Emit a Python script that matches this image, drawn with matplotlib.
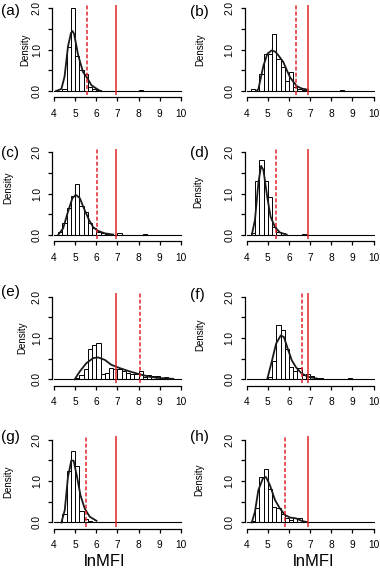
import matplotlib
matplotlib.use("Agg")
import matplotlib.pyplot as plt
import numpy as np

plt.rcParams['font.family'] = ['Liberation Sans', 'DejaVu Sans']

# ---- data -------------------------------------------------------------
panel_labels = ["(a)", "(b)", "(c)", "(d)", "(e)", "(f)", "(g)", "(h)"]
bin_start = 4.0
bin_width = 0.2

hist_a = [0, 0, 0.05, 1.06, 2.0, 0.85, 0.5, 0.4, 0.1, 0.05, 0.03, 0, 0, 0, 0,
          0, 0, 0, 0, 0, 0.02, 0, 0, 0, 0, 0, 0, 0, 0, 0]
hist_b = [0, 0.05, 0, 0.4, 0.9, 0.9, 1.38, 0.78, 0.57, 0.25, 0.47, 0.1, 0.05, 0.02, 0,
          0, 0, 0, 0, 0, 0, 0, 0.03, 0, 0, 0, 0, 0, 0, 0]
hist_c = [0, 0.07, 0.3, 0.65, 0.93, 1.23, 0.69, 0.56, 0.29, 0.17, 0.08, 0.04, 0.02, 0, 0,
          0.04, 0, 0, 0, 0, 0, 0.02, 0, 0, 0, 0, 0, 0, 0, 0]
hist_d = [0, 0.05, 1.3, 1.8, 1.3, 0.92, 0.2, 0.08, 0.05, 0, 0, 0, 0, 0.02, 0,
          0, 0, 0, 0, 0, 0, 0, 0, 0, 0, 0, 0, 0, 0, 0]
hist_e = [0, 0, 0, 0, 0, 0.02, 0.1, 0.25, 0.72, 0.82, 0.87, 0.12, 0.15, 0.28, 0.26,
          0.24, 0.2, 0.16, 0.12, 0.12, 0.2, 0.05, 0.11, 0.07, 0.07, 0, 0.05, 0.02, 0, 0]
hist_f = [0, 0, 0, 0, 0, 0.05, 0.45, 1.31, 1.19, 0.73, 0.3, 0.2, 0.28, 0.1, 0.12,
          0.07, 0.02, 0.02, 0, 0, 0, 0, 0, 0, 0.02, 0, 0, 0, 0, 0]
hist_g = [0, 0, 0.2, 1.25, 1.72, 1.37, 0.27, 0.08, 0.03, 0, 0, 0, 0, 0, 0.02,
          0, 0, 0, 0, 0, 0, 0, 0, 0, 0.02, 0, 0, 0, 0, 0]
hist_h = [0, 0.03, 0.35, 1.1, 1.3, 0.8, 0.38, 0.36, 0.2, 0.1, 0.05, 0.12, 0.11, 0.03, 0,
          0, 0, 0, 0, 0, 0, 0, 0, 0, 0, 0, 0, 0, 0, 0]

dens_x_a = [4.1, 4.35, 4.5, 4.66, 4.8, 4.87, 4.95, 5.14, 5.37, 5.56, 5.77, 6.0, 6.16]
dens_y_a = [0.0, 0.05, 0.35, 1.07, 1.4, 1.45, 1.38, 0.87, 0.46, 0.32, 0.14, 0.06, 0.01]
dens_x_b = [4.45, 4.55, 4.79, 4.98, 5.18, 5.35, 5.5, 5.73, 5.9, 6.05, 6.36, 6.6, 6.9]
dens_y_b = [0.0, 0.04, 0.61, 0.9, 0.98, 0.95, 0.86, 0.7, 0.5, 0.33, 0.12, 0.06, 0.03]
dens_x_c = [4.19, 4.43, 4.66, 4.87, 5.03, 5.22, 5.45, 5.66, 5.85, 6.08, 6.4, 6.8]
dens_y_c = [0.0, 0.16, 0.56, 0.89, 0.97, 0.89, 0.6, 0.36, 0.19, 0.1, 0.04, 0.01]
dens_x_d = [4.24, 4.39, 4.55, 4.68, 4.79, 4.98, 5.13, 5.34, 5.57, 5.89]
dens_y_d = [0.0, 0.36, 1.25, 1.67, 1.57, 0.89, 0.44, 0.19, 0.06, 0.01]
dens_x_e = [4.98, 5.22, 5.53, 5.85, 6.08, 6.4, 6.71, 7.11, 7.58, 8.06, 8.53, 9.0, 9.64]
dens_y_e = [0.0, 0.19, 0.39, 0.51, 0.53, 0.47, 0.35, 0.27, 0.19, 0.12, 0.06, 0.03, 0.01]
dens_x_f = [4.98, 5.18, 5.39, 5.61, 5.76, 5.94, 6.13, 6.33, 6.6, 6.91, 7.31]
dens_y_f = [0.02, 0.42, 0.86, 1.06, 1.02, 0.74, 0.46, 0.29, 0.14, 0.06, 0.02]
dens_x_g = [4.35, 4.51, 4.66, 4.82, 4.93, 5.09, 5.25, 5.45, 5.69, 6.01]
dens_y_g = [0.0, 0.3, 1.1, 1.5, 1.49, 1.1, 0.66, 0.34, 0.14, 0.04]
dens_x_h = [4.24, 4.39, 4.55, 4.76, 4.91, 5.1, 5.34, 5.57, 5.81, 6.05, 6.33, 6.6, 6.83]
dens_y_h = [0.0, 0.26, 0.78, 1.06, 1.1, 0.9, 0.54, 0.34, 0.18, 0.12, 0.1, 0.04, 0.01]

dashed_cut = [5.55, 6.32, 6.03, 5.4, 8.05, 6.63, 5.5, 5.83]
solid_cut = [6.91, 6.91, 6.91, 6.91, 6.91, 6.91, 6.91, 6.91]

x_ticks = [4, 5, 6, 7, 8, 9, 10]
y_ticks = [0.0, 0.5, 1.0, 1.5, 2.0]
y_ticklabels = ["0.0", "", "1.0", "", "2.0"]
x_label = "lnMFI"
y_label = "Density"

hists = [hist_a, hist_b, hist_c, hist_d, hist_e, hist_f, hist_g, hist_h]
dens_x = [dens_x_a, dens_x_b, dens_x_c, dens_x_d, dens_x_e, dens_x_f, dens_x_g, dens_x_h]
dens_y = [dens_y_a, dens_y_b, dens_y_c, dens_y_d, dens_y_e, dens_y_f, dens_y_g, dens_y_h]

# ---- layout (pixels) --------------------------------------------------
W, H = 380, 570
fig = plt.figure(figsize=(W / 100, H / 100), dpi=100)

col_x4 = [54.0, 246.7]          # pixel x of value 4
row_y0 = [91.0, 235.0, 379.3, 522.5]  # pixel y of density 0
sx, sy = 21.15, 41.4
xlim = (3.85, 10.15)
ylim = (-0.15, 2.12)

ylabel_pos = [(25, 50), (200, 50), (8, 188), (198, 192), (22, 338), (200, 335), (8, 482), (199.5, 480)]
plabel_pos = [(1, 11), (190, 12), (1, 153), (190, 153), (1, 292), (190, 295), (1, 437), (190, 437)]

red = "#e0242a"

for i in range(8):
    r, c = divmod(i, 2)
    left = col_x4[c] + (xlim[0] - 4) * sx
    width = (xlim[1] - xlim[0]) * sx
    top = row_y0[r] - ylim[1] * sy
    height = (ylim[1] - ylim[0]) * sy
    ax = fig.add_axes([left / W, 1 - (top + height) / H, width / W, height / H])
    ax.set_xlim(*xlim)
    ax.set_ylim(*ylim)

    edges = bin_start + bin_width * np.arange(len(hists[i]) + 1)
    ax.bar(edges[:-1], hists[i], width=bin_width, align='edge',
           color='white', edgecolor='black', linewidth=0.7, zorder=2)
    ax.plot([edges[0], edges[-1]], [0, 0], color='black', lw=0.8, zorder=3)
    ax.plot(dens_x[i], dens_y[i], color='#1a1a1a', lw=1.3, zorder=4)

    ax.vlines(solid_cut[i], -0.1, 2.08, color=red, lw=1.1, zorder=5)
    ax.vlines(dashed_cut[i], -0.1, 2.08, color=red, lw=1.1,
              linestyles=(0, (2.6, 1.4)), zorder=5)

    for s in ['top', 'right']:
        ax.spines[s].set_visible(False)
    ax.spines['left'].set_position(('data', 3.9))
    ax.spines['left'].set_bounds(0, 2)
    ax.spines['bottom'].set_bounds(4, 10)
    for s in ['left', 'bottom']:
        ax.spines[s].set_linewidth(0.9)
    ax.set_xticks(x_ticks)
    ax.set_xticklabels([str(t) for t in x_ticks])
    ax.set_yticks(y_ticks)
    ax.set_yticklabels(y_ticklabels, rotation=90, va='center')
    ax.tick_params(axis='both', length=3.2, width=0.9, labelsize=7.3, color='black')
    ax.tick_params(axis='x', pad=5.2)
    ax.tick_params(axis='y', pad=4)
    ax.patch.set_visible(False)

    fig.text(ylabel_pos[i][0] / W, 1 - ylabel_pos[i][1] / H, y_label, rotation=90,
             ha='center', va='center', fontsize=7)
    fig.text(plabel_pos[i][0] / W, 1 - plabel_pos[i][1] / H, panel_labels[i],
             ha='left', va='center', fontsize=11)

fig.text(104.5 / W, 1 - 562 / H, x_label, ha='center', va='center', fontsize=12)
fig.text(314 / W, 1 - 562 / H, x_label, ha='center', va='center', fontsize=12)

fig.savefig("out.png", dpi=100)
